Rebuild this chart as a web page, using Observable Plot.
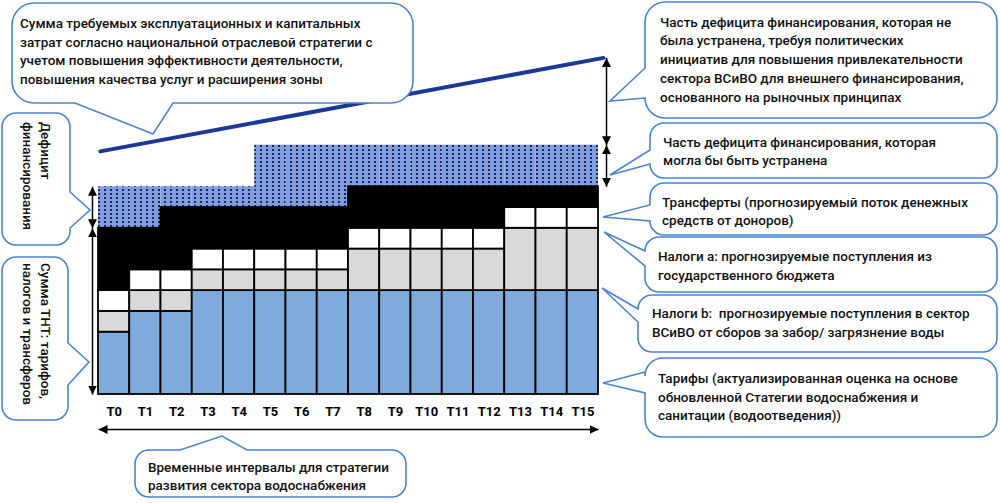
<!DOCTYPE html>
<html>
<head>
<meta charset="utf-8">
<script src="https://cdn.jsdelivr.net/npm/d3@7"></script>
<script src="https://cdn.jsdelivr.net/npm/@observablehq/plot@0.6"></script>
<style>
  body { margin: 0; background: #fff; }
  #wrap { position: relative; width: 1000px; height: 503px; overflow: hidden; }
  #wrap svg { position: absolute; left: 0; top: 0; }
  .t { font-family: Roboto, "Noto Sans", sans-serif; font-size: 13.5px; font-weight: 500; fill: #111; white-space: pre; }
</style>
</head>
<body>
<svg width="0" height="0" style="position:absolute">
  <defs>
    <pattern id="dots" width="6" height="4" patternUnits="userSpaceOnUse">
      <rect width="6" height="4" fill="#7f9de0"></rect>
      <rect x="2" y="1" width="2" height="2" fill="#1d2752"></rect>
    </pattern>
    <marker id="ah" viewBox="0 0 10 10" refX="10" refY="5" markerWidth="9" markerHeight="9" markerUnits="userSpaceOnUse" orient="auto-start-reverse">
      <path d="M0,0 L10,5 L0,10 z" fill="#000"></path>
    </marker>
  </defs>
</svg>
<div id="wrap"></div>
<script>
// ---- data ----
const periods   = ["T0","T1","T2","T3","T4","T5","T6","T7","T8","T9","T10","T11","T12","T13","T14","T15"];
const tariffs   = [3,4,4,5,5,5,5,5,5,5,5,5,5,5,5,5];
const taxesB    = [1,1,1,1,1,1,1,1,2,2,2,2,2,3,3,3];
const taxesA    = [1,1,1,1,1,1,1,1,1,1,1,1,1,1,1,1];
const transfers = [3,2,3,2,2,2,2,2,2,2,2,2,2,1,1,1];
const closableGap = [2,2,1,1,1,3,3,3,2,2,2,2,2,2,2,2];
const seriesNames = ["Тарифы","Налоги b","Налоги а","Трансферты"];
const costPeriods = [0.06, 16.16];
const costValues  = [11.7, 16.2];

// ---- derived tables ----
const seriesValues = [tariffs, taxesB, taxesA, transfers];
const segs = [], gaps = [];
periods.forEach((p, i) => {
  let acc = 0;
  seriesValues.forEach((arr, k) => {
    segs.push({period: p, x1: i, x2: i + 1, y1: acc, y2: acc + arr[i], series: seriesNames[k]});
    acc += arr[i];
  });
  gaps.push({period: p, x1: i, x2: i + 1, y1: acc, y2: acc + closableGap[i]});
});
const funded = periods.map((p, i) => tariffs[i] + taxesB[i] + taxesA[i] + transfers[i]);
const totals = periods.map((p, i) => funded[i] + closableGap[i]);
const last = periods.length - 1;
const leftArrows  = [{y1: funded[0], y2: totals[0]}, {y1: 0, y2: funded[0]}];
const rightArrows = [{y1: totals[last], y2: costValues[1]}, {y1: funded[last], y2: totals[last]}];
const costLine = costPeriods.map((x, i) => ({x, y: costValues[i]}));

const chart = Plot.plot({
  width: 1000, height: 503,
  marginLeft: 98, marginRight: 402, marginTop: 20, marginBottom: 109,
  x: {domain: [0, periods.length], axis: null},
  y: {domain: [0, 18], axis: null},
  color: {domain: seriesNames, range: ["#7fabdc", "#d9d9d9", "#ffffff", "#000000"]},
  marks: [
    Plot.rect(gaps, {x1: "x1", x2: "x2", y1: "y1", y2: "y2", fill: "url(#dots)"}),
    Plot.rect(segs, {x1: "x1", x2: "x2", y1: "y1", y2: "y2", fill: "series", stroke: "#000", strokeWidth: 1.8}),
    Plot.line(costLine, {x: "x", y: "y", stroke: "#1b3898", strokeWidth: 4}),
    Plot.text(periods, {x: (d, i) => i + 0.5, y: 0, dy: 17, text: d => d, fontWeight: "bold", fontSize: 13, fontFamily: "Roboto", fill: "#000"}),
    Plot.link(leftArrows, {x1: 0, x2: 0, y1: "y1", y2: "y2", dx: -6, stroke: "#000", strokeWidth: 1.5}),
    Plot.link(rightArrows, {x1: periods.length, x2: periods.length, y1: "y1", y2: "y2", dx: 8, stroke: "#000", strokeWidth: 1.5}),
    Plot.link([{a: 0, b: periods.length}], {x1: "a", x2: "b", y1: 0, y2: 0, dy: 35, stroke: "#000", strokeWidth: 1.5})
  ]
});
chart.querySelectorAll('g[aria-label="link"] path').forEach(p => {
  p.setAttribute("marker-start", "url(#ah)");
  p.setAttribute("marker-end", "url(#ah)");
});
document.getElementById("wrap").appendChild(chart);

// ---- callout bubbles (annotation layer) ----
function bubblePath(b) {
  const {x, y, w, h, r, tail: t} = b;
  let d = `M${x + r},${y}`;
  if (t.side === "top") d += `L${t.a},${y}L${t.tx},${t.ty}L${t.b},${y}`;
  d += `L${x + w - r},${y}A${r},${r} 0 0 1 ${x + w},${y + r}`;
  if (t.side === "right") d += `L${x + w},${t.a}L${t.tx},${t.ty}L${x + w},${t.b}`;
  d += `L${x + w},${y + h - r}A${r},${r} 0 0 1 ${x + w - r},${y + h}`;
  if (t.side === "bottom") d += `L${t.b},${y + h}L${t.tx},${t.ty}L${t.a},${y + h}`;
  d += `L${x + r},${y + h}A${r},${r} 0 0 1 ${x},${y + h - r}`;
  if (t.side === "left") d += `L${x},${t.b}L${t.tx},${t.ty}L${x},${t.a}`;
  d += `L${x},${y + r}A${r},${r} 0 0 1 ${x + r},${y}Z`;
  return d;
}
const bubbles = [
  {x: 12, y: 3, w: 401, h: 100, r: 22, tail: {side: "bottom", a: 75, b: 173, tx: 153, ty: 134},
   tx: 20, ty: 28, dy: 18.5, lines: ["Сумма требуемых эксплуатационных и капитальных", "затрат согласно национальной отраслевой стратегии с", "учетом повышения эффективности деятельности,", "повышения качества услуг и расширения зоны"]},
  {x: 645, y: 2, w: 352, h: 116, r: 20, tail: {side: "left", a: 68, b: 98, tx: 610, ty: 101},
   tx: 660, ty: 26.5, dy: 18.75, lines: ["Часть дефицита финансирования, которая не", "была устранена, требуя политических", "инициатив для повышения привлекательности", "сектора ВСиВО для внешнего финансирования,", "основанного на рыночных принципах"]},
  {x: 650, y: 123, w: 347, h: 55, r: 14, tail: {side: "left", a: 150, b: 164, tx: 610, ty: 175},
   tx: 663, ty: 146.5, dy: 18.5, lines: ["Часть дефицита финансирования, которая", "могла бы быть устранена"]},
  {x: 650, y: 183, w: 347, h: 52, r: 14, tail: {side: "left", a: 205, b: 221, tx: 603, ty: 217},
   tx: 662, ty: 206.5, dy: 18.5, lines: ["Трансферты (прогнозируемый поток денежных", "средств от доноров)"]},
  {x: 645, y: 237, w: 352, h: 55, r: 14, tail: {side: "left", a: 251, b: 266, tx: 604, ty: 232},
   tx: 658, ty: 261, dy: 18.5, lines: ["Налоги а: прогнозируемые поступления из", "государственного бюджета"]},
  {x: 638, y: 295, w: 359, h: 57, r: 14, tail: {side: "left", a: 309, b: 322, tx: 602, ty: 288},
   tx: 652, ty: 318, dy: 18.5, lines: ["Налоги b:  прогнозируемые поступления в сектор", "ВСиВО от сборов за забор/ загрязнение воды"]},
  {x: 645, y: 358, w: 352, h: 79, r: 18, tail: {side: "left", a: 372, b: 393, tx: 603, ty: 383},
   tx: 658, ty: 383, dy: 18.5, lines: ["Тарифы (актуализированная оценка на основе", "обновленной Статегии водоснабжения и", "санитации (водоотведения))"]},
  {x: 135, y: 450, w: 271, h: 47, r: 14, tail: {side: "top", a: 180, b: 247, tx: 222, ty: 436},
   tx: 148, ty: 471.5, dy: 18.5, lines: ["Временные интервалы для стратегии", "развития сектора водоснабжения"]},
  {x: 2, y: 113, w: 68, h: 132, r: 14, tail: {side: "right", a: 192, b: 228, tx: 90, ty: 210},
   rot: true, tx: 45, ty: 122, dy: 18.5, lines: ["Дефицит", "финансирования"]},
  {x: 2, y: 257, w: 66, h: 163, r: 14, tail: {side: "right", a: 343, b: 385, tx: 89, ty: 362},
   rot: true, tx: 45, ty: 263, dy: 18.5, lines: ["Сумма ТНТ: тарифов,", "налогов и трансферов"]}
];
const ov = d3.create("svg").attr("width", 1000).attr("height", 503).style("pointer-events", "none");
for (const b of bubbles) {
  ov.append("path").attr("d", bubblePath(b)).attr("fill", "#fff").attr("stroke", "#4a84cf").attr("stroke-width", 1.6);
  b.lines.forEach((s, i) => {
    const t = ov.append("text").attr("class", "t").text(s);
    if (b.rot) {
      t.attr("transform", `translate(${b.tx - i * b.dy},${b.ty}) rotate(90)`).attr("dominant-baseline", "middle");
    } else {
      t.attr("x", b.tx).attr("y", b.ty + i * b.dy);
    }
  });
}
document.getElementById("wrap").appendChild(ov.node());
</script>
</body>
</html>
